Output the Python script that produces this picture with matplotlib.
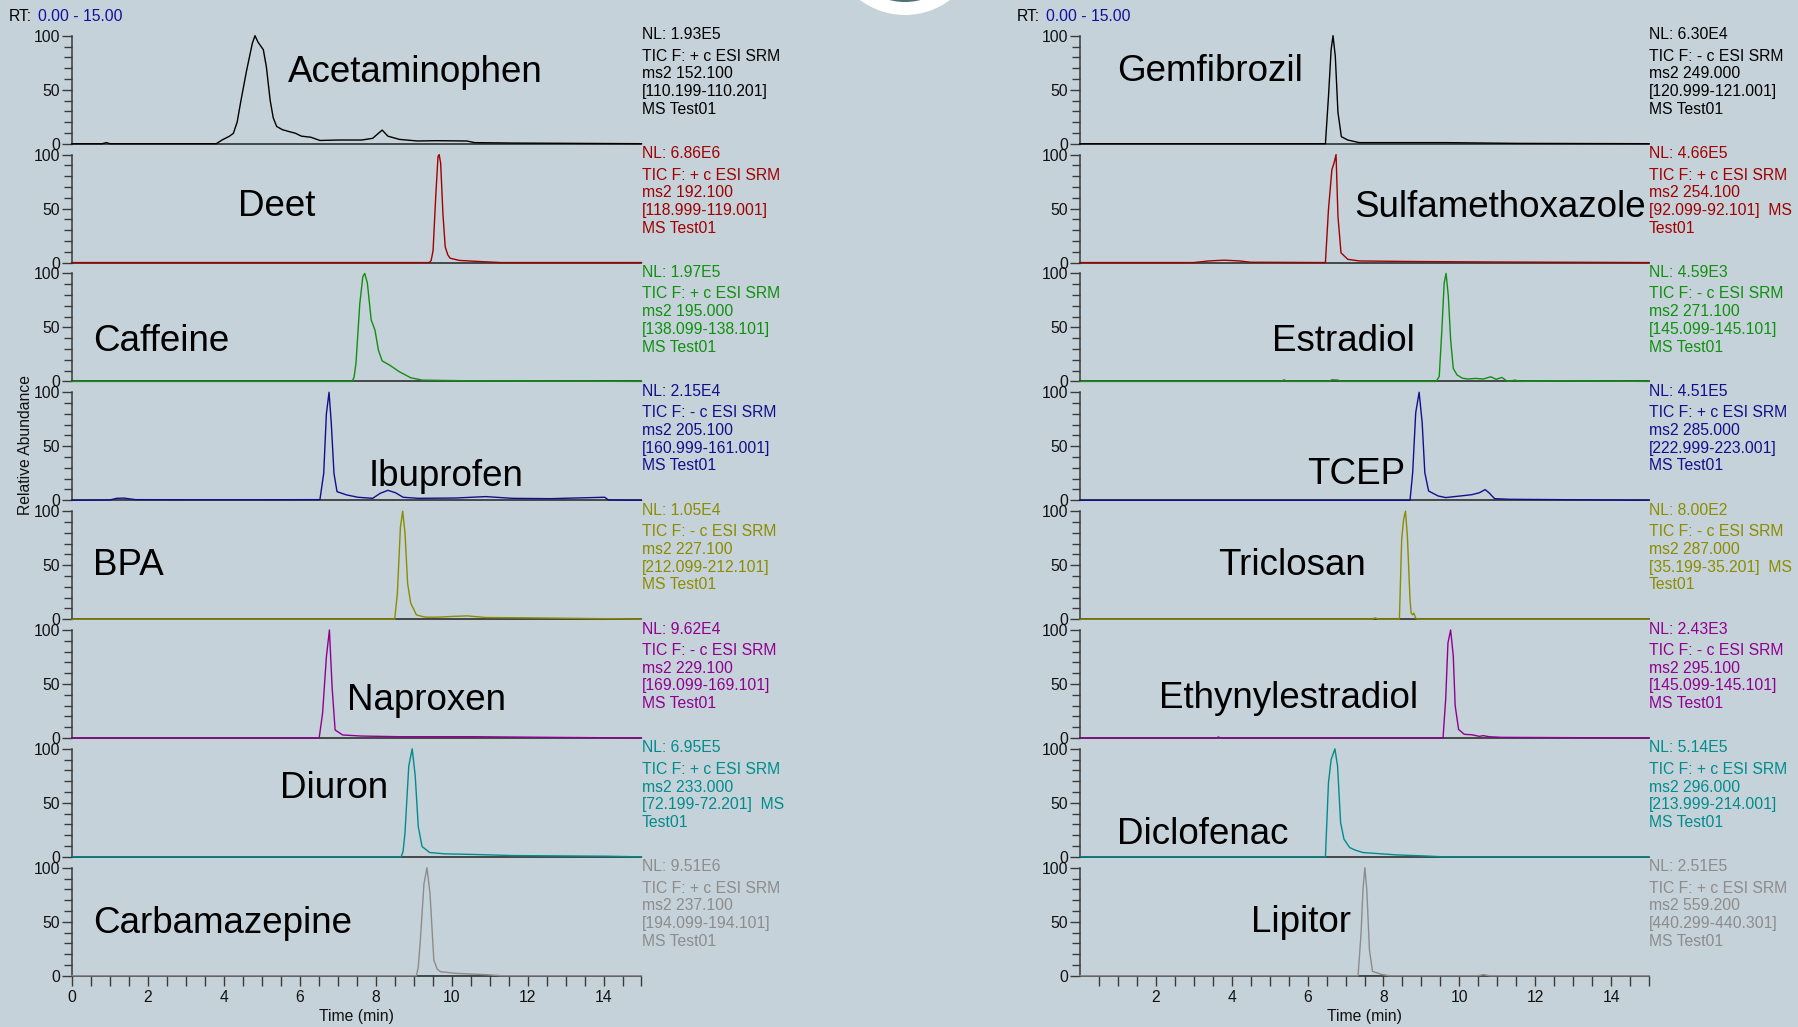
import matplotlib
matplotlib.use("Agg")
import matplotlib.pyplot as plt
from matplotlib.patches import Ellipse
from matplotlib.ticker import MultipleLocator, FixedLocator

plt.rcParams['font.family'] = ['Liberation Sans', 'DejaVu Sans']

# ---------------- data ----------------
left_names = ["Acetaminophen", "Deet", "Caffeine", "Ibuprofen", "BPA", "Naproxen", "Diuron", "Carbamazepine"]
right_names = ["Gemfibrozil", "Sulfamethoxazole", "Estradiol", "TCEP", "Triclosan", "Ethynylestradiol", "Diclofenac", "Lipitor"]

left_nl = ["1.93E5", "6.86E6", "1.97E5", "2.15E4", "1.05E4", "9.62E4", "6.95E5", "9.51E6"]
right_nl = ["6.30E4", "4.66E5", "4.59E3", "4.51E5", "8.00E2", "2.43E3", "5.14E5", "2.51E5"]
left_pol = ["+", "+", "+", "-", "-", "-", "+", "+"]
right_pol = ["-", "+", "-", "+", "-", "-", "+", "+"]
left_ms2 = ["152.100", "192.100", "195.000", "205.100", "227.100", "229.100", "233.000", "237.100"]
right_ms2 = ["249.000", "254.100", "271.100", "285.000", "287.000", "295.100", "296.000", "559.200"]
left_rng = ["110.199-110.201", "118.999-119.001", "138.099-138.101", "160.999-161.001",
            "212.099-212.101", "169.099-169.101", "72.199-72.201", "194.099-194.101"]
right_rng = ["120.999-121.001", "92.099-92.101", "145.099-145.101", "222.999-223.001",
             "35.199-35.201", "145.099-145.101", "213.999-214.001", "440.299-440.301"]

colors = ["#000000", "#A00000", "#109010", "#10108C", "#8C8C00", "#900090", "#008C8C", "#8C8C8C"]

# compound label positions (time, relative abundance)
left_lbl_t = [5.69, 4.37, 0.55, 7.80, 0.55, 7.25, 5.47, 0.55]
left_lbl_y = [66, 52, 37, 22, 50, 35, 63, 48]
right_lbl_t = [0.97, 7.23, 5.06, 6.00, 3.65, 2.08, 0.97, 4.52]
right_lbl_y = [67, 51, 37, 24, 50, 36.5, 21, 49]

# chromatogram traces (time in min, relative abundance %)
acet_t = [0, 0.8, 0.9, 1.0, 3.8, 3.95, 4.15, 4.25, 4.35, 4.45, 4.6, 4.75, 4.82, 4.9, 5.04, 5.12, 5.22, 5.3,
          5.39, 5.54, 5.74, 5.89, 6.04, 6.29, 6.53, 7.03, 7.63, 7.92, 8.05, 8.17, 8.32, 8.62, 9.1, 9.6, 10.4,
          10.6, 11.6, 15]
acet_y = [0, 0, 1.0, 0, 0, 3.4, 7, 9.6, 20, 40, 68, 93, 100, 94, 87, 71, 40, 24,
          16, 13, 11, 9.6, 7, 6, 3, 3.4, 3.4, 5, 9, 12.6, 7, 4, 2.5, 2.8, 2.5,
          1, 0.6, 0]
deet_t = [0, 9.41, 9.46, 9.51, 9.58, 9.64, 9.67, 9.71, 9.77, 9.83, 9.9, 9.96, 10.2, 10.6, 11.3, 15]
deet_y = [0, 0, 2, 11, 61, 98, 100, 92, 45, 14.5, 7, 4, 2, 1.2, 0, 0]
caff_t = [0, 7.38, 7.43, 7.48, 7.58, 7.66, 7.71, 7.78, 7.88, 7.98, 8.07, 8.17, 8.37, 8.62, 8.92, 9.22, 9.6,
          10.4, 15]
caff_y = [0, 0, 4, 17, 72, 97, 100, 91, 57, 47.5, 29, 19, 15, 9, 3.4, 1.2, 1,
          0.6, 0]
ibu_t = [0, 1.0, 1.17, 1.37, 1.67, 3.0, 5.0, 6.53, 6.63, 6.7, 6.77, 6.83, 6.9, 6.98, 7.23, 7.53, 7.92, 8.12,
         8.32, 8.52, 8.72, 9.12, 10.1, 10.9, 11.6, 12.6, 14.03, 14.13, 15]
ibu_y = [0, 0.3, 1.8, 2.0, 0.6, 0.5, 0.5, 0.6, 25, 80, 100, 71, 25, 8, 5, 2.8, 1.8, 6.5,
         9.2, 7, 2.8, 1.8, 2.1, 3.4, 1.8, 1.5, 2.8, 0.3, 0]
bpa_t = [0, 8.5, 8.57, 8.65, 8.71, 8.77, 8.84, 8.92, 9.07, 9.22, 9.32, 9.61, 10.01, 10.41, 10.9, 12.0, 13.6, 15]
bpa_y = [0, 0, 24, 85, 100, 80, 33, 15, 4, 2.5, 1.8, 1.8, 2.5, 3, 1.5, 1.2, 0.6, 0]
nap_t = [0, 6.51, 6.6, 6.7, 6.78, 6.85, 6.93, 7.13, 7.63, 8.62, 10.6, 12.6, 15]
nap_y = [0, 0, 23, 75, 100, 47.5, 7.4, 2.8, 1.8, 1.2, 1.2, 0.6, 0]
diu_t = [0, 8.67, 8.72, 8.77, 8.87, 8.96, 9.04, 9.12, 9.22, 9.42, 9.81, 10.6, 11.6, 14.1, 15]
diu_y = [0, 0, 5, 22, 84, 100, 75, 28, 9.6, 4, 2.8, 2.2, 1.2, 0.6, 0]
carb_t = [0, 9.07, 9.12, 9.17, 9.27, 9.35, 9.43, 9.53, 9.62, 9.71, 10.1, 10.9, 11.3, 15]
carb_y = [0, 0, 8, 30, 85, 100, 76, 14.5, 6, 3.7, 2.2, 1, 0, 0]

gem_t = [0, 6.47, 6.55, 6.62, 6.67, 6.73, 6.8, 6.89, 7.06, 7.36, 9.64, 11.5, 15]
gem_y = [0, 0, 43.5, 87, 100, 81, 29, 6.5, 3.4, 1, 1, 0.3, 0]
sulf_t = [0, 3.0, 3.4, 3.8, 4.2, 4.5, 6.47, 6.55, 6.64, 6.7, 6.75, 6.8, 6.88, 7.06, 7.36, 8.65, 11.0, 15]
sulf_y = [0, 0, 1.5, 2.2, 1.5, 0.3, 0, 49, 86, 92.6, 100, 43, 9, 3, 1.5, 1, 0.5, 0]
estr_t = [0, 5.3, 5.38, 5.46, 6.55, 6.65, 6.8, 6.9, 9.39, 9.47, 9.54, 9.6, 9.65, 9.71, 9.77, 9.84, 9.94,
          10.08, 10.23, 10.43, 10.63, 10.83, 10.97, 11.12, 11.27, 11.47, 11.6, 12.6, 15]
estr_y = [0, 0, 1.5, 0, 0, 1.5, 1.2, 0, 0, 4.6, 48, 91, 100, 79, 39, 12, 6,
          3, 2.2, 2.8, 2.2, 4.3, 1.9, 3.7, 0, 1.2, 0, 0.6, 0]
tcep_t = [0, 8.7, 8.77, 8.85, 8.94, 9.02, 9.09, 9.19, 9.44, 9.64, 10.03, 10.33, 10.53, 10.68, 10.78, 10.93,
          11.32, 15]
tcep_y = [0, 0, 25.6, 81, 100, 72, 25.6, 8.6, 4, 2.5, 4, 5.2, 7, 9.9, 7, 1.5, 0.9, 0]
tric_t = [0, 7.7, 7.78, 7.86, 8.42, 8.48, 8.53, 8.58, 8.63, 8.7, 8.73, 8.77, 8.8, 8.85, 8.9, 15]
tric_y = [0, 0, 1.2, 0, 0, 73.7, 92, 100, 77, 18, 5.6, 4, 5.6, 0.9, 0, 0]
ethy_t = [0, 3.6, 3.65, 3.7, 9.57, 9.64, 9.7, 9.77, 9.84, 9.89, 9.98, 10.13, 10.33, 10.53, 10.63, 10.78,
          11.12, 15]
ethy_y = [0, 0, 1.0, 0, 0, 36, 88, 100, 76, 30, 8, 3.4, 3, 1.5, 2.2, 1.2, 0.6, 0]
dicl_t = [0, 6.47, 6.55, 6.62, 6.72, 6.79, 6.87, 6.96, 7.11, 7.26, 7.46, 7.86, 8.35, 9.04, 9.6, 15]
dicl_y = [0, 0, 68.6, 90, 100, 84, 31.7, 16.3, 8.6, 6.2, 4, 3, 1.8, 0.9, 0, 0]
lip_t = [0, 7.33, 7.41, 7.46, 7.51, 7.56, 7.63, 7.71, 7.95, 8.15, 10.5, 10.63, 10.8, 15]
lip_y = [0, 0, 39.6, 80, 100, 80, 24, 4, 1.2, 0, 0, 1.0, 0, 0]

left_traces = [(acet_t, acet_y), (deet_t, deet_y), (caff_t, caff_y), (ibu_t, ibu_y),
               (bpa_t, bpa_y), (nap_t, nap_y), (diu_t, diu_y), (carb_t, carb_y)]
right_traces = [(gem_t, gem_y), (sulf_t, sulf_y), (estr_t, estr_y), (tcep_t, tcep_y),
                (tric_t, tric_y), (ethy_t, ethy_y), (dicl_t, dicl_y), (lip_t, lip_y)]

x_major_left = [0, 2, 4, 6, 8, 10, 12, 14]
x_major_right = [2, 4, 6, 8, 10, 12, 14]

# ---------------- layout ----------------
W, H = 1798, 1027
BG = "#C6D2D9"
fig = plt.figure(figsize=(W / 100, H / 100), dpi=100, facecolor=BG)

base0 = 143.7       # px from top of first panel baseline
step = 118.86       # px between panels
ph = 108.0          # panel height (0..100)
cols = [(72, 641.5), (1080, 1649)]
FS = 11.3
NAME_FS = 26.5

def fx(px):
    return px / W

def fy(py):
    return 1 - py / H

# logo fragment at top center
fig.add_artist(Ellipse((fx(905), fy(-60)), 150 / W, 150 / H, transform=fig.transFigure,
                       facecolor="white", edgecolor="none", clip_on=False))
fig.add_artist(Ellipse((fx(905), fy(-60)), 124 / W, 124 / H, transform=fig.transFigure,
                       facecolor="#4E7173", edgecolor="none", clip_on=False))

all_names = [left_names, right_names]
all_traces = [left_traces, right_traces]
all_nl = [left_nl, right_nl]
all_pol = [left_pol, right_pol]
all_ms2 = [left_ms2, right_ms2]
all_rng = [left_rng, right_rng]
all_lt = [left_lbl_t, right_lbl_t]
all_ly = [left_lbl_y, right_lbl_y]

for c in range(2):
    x0, x1 = cols[c]
    for k in range(8):
        base = base0 + step * k
        ax = fig.add_axes([fx(x0), fy(base), fx(x1 - x0), ph / H])
        ax.set_facecolor("none")
        t, y = all_traces[c][k]
        ax.plot(t, y, color=colors[k], lw=1.0, clip_on=False, zorder=3)
        ax.set_xlim(0, 15)
        ax.set_ylim(0, 100)
        for s in ["top", "right"]:
            ax.spines[s].set_visible(False)
        ax.spines["left"].set_color("#3A3A3A")
        ax.spines["bottom"].set_color("#222222")
        ax.spines["left"].set_linewidth(1.1)
        ax.spines["bottom"].set_linewidth(1.1)
        ax.yaxis.set_major_locator(FixedLocator([0, 50, 100]))
        ax.yaxis.set_minor_locator(MultipleLocator(10))
        ax.tick_params(axis="y", which="both", direction="out", length=7, width=1.0,
                       color="#3A3A3A", labelsize=FS, pad=1.5, labelcolor="#111111")
        ax.tick_params(axis="y", which="minor", length=6)
        if k == 7:
            if c == 0:
                ax.xaxis.set_major_locator(FixedLocator(x_major_left))
            else:
                ax.xaxis.set_major_locator(FixedLocator(x_major_right))
            ax.xaxis.set_minor_locator(FixedLocator([v * 0.5 for v in range(1, 31)]))
            ax.tick_params(axis="x", which="both", direction="out", length=7, width=1.0,
                           color="#3A3A3A", labelsize=FS, pad=3, labelcolor="#111111")
            ax.set_xlabel("Time (min)", fontsize=FS, labelpad=3, color="#111111")
        else:
            ax.set_xticks([])
        ax.text(all_lt[c][k], all_ly[c][k], all_names[c][k], fontsize=NAME_FS, color="black",
                ha="left", va="center", zorder=5)

        # annotation text block
        rng = "[" + all_rng[c][k] + "]"
        if len(all_rng[c][k]) <= 13:
            lines = ["TIC F: " + all_pol[c][k] + " c ESI SRM", "ms2 " + all_ms2[c][k], rng + "  MS", "Test01"]
        else:
            lines = ["TIC F: " + all_pol[c][k] + " c ESI SRM", "ms2 " + all_ms2[c][k], rng, "MS Test01"]
        fig.text(fx(x1), fy(base - 109), "NL: " + all_nl[c][k], fontsize=FS, color=colors[k],
                 ha="left", va="center")
        for i, ln in enumerate(lines):
            fig.text(fx(x1), fy(base - 87.5 + 17.7 * i), ln, fontsize=FS, color=colors[k],
                     ha="left", va="center")

    # RT header
    rtx = [9, 1017][c]
    fig.text(fx(rtx), fy(16.5), "RT:", fontsize=FS, color="black", ha="left", va="center")
    fig.text(fx(rtx + 29.5), fy(16.5), "0.00 - 15.00", fontsize=FS, color="#1010A0",
             ha="left", va="center")

fig.text(fx(26), fy(445), "Relative Abundance", rotation=90, fontsize=FS, color="#111111",
         ha="center", va="center")

fig.savefig("out.png", dpi=100, facecolor=BG)
